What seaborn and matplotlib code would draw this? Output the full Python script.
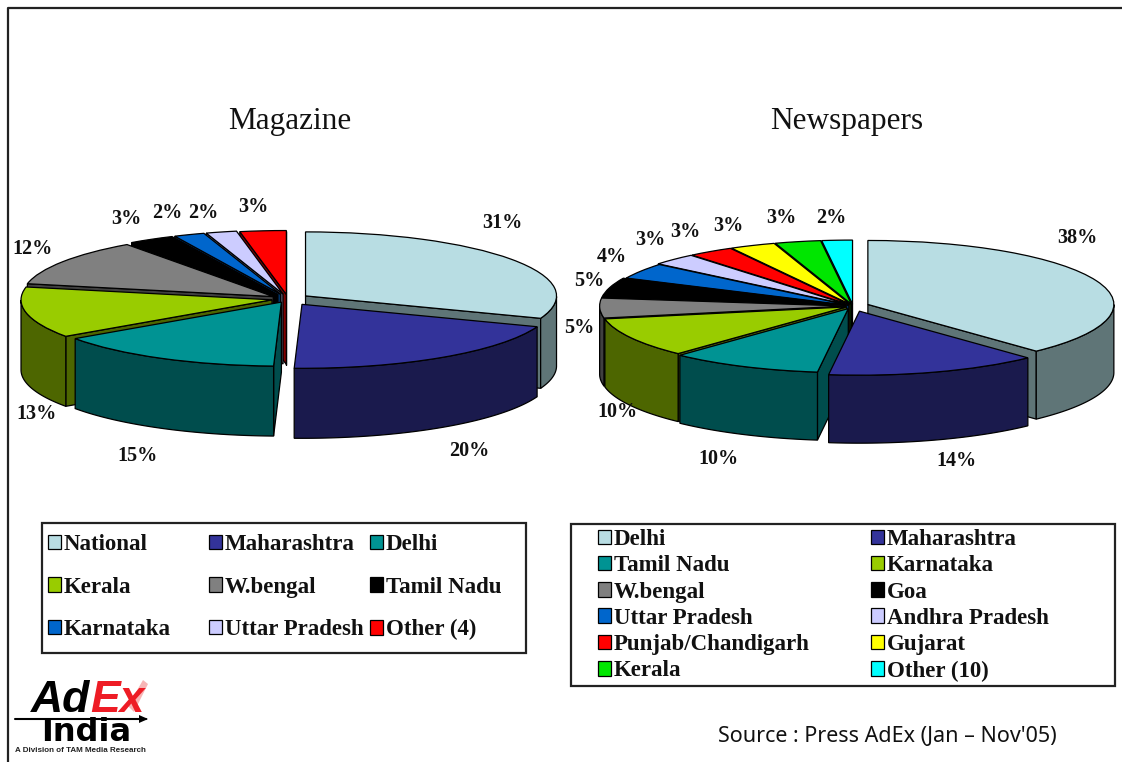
import numpy as np
import matplotlib
matplotlib.use("Agg")
import matplotlib.pyplot as plt
from matplotlib.lines import Line2D
from matplotlib.patches import Patch, Polygon, Rectangle
import seaborn as sns

W, H = 1122, 762

mag_labels = ["National", "Maharashtra", "Delhi", "Kerala", "W.bengal", "Tamil Nadu",
              "Karnataka", "Uttar Pradesh", "Other (4)"]
mag_values = [31, 20, 15, 13, 12, 3, 2, 2, 3]
mag_explode = [0.085, 0.1, 0.055, 0.065, 0.07, 0.08, 0.08, 0.08, 0.07]
mag_top = ["#B8DDE3", "#33339A", "#009393", "#99CC00", "#808080", "#000000", "#0066CC", "#CCCCFF", "#FF0000"]
mag_wall = ["#5F7577", "#1A1A4D", "#004D4D", "#4D6600", "#404040", "#000000", "#003366", "#66667F", "#800000"]
mag_pct_pos = [(502, 223), (469, 451), (137, 456), (37, 414), (33, 249),
               (126, 219), (167, 213), (203, 213), (253, 207)]

news_labels = ["Delhi", "Maharashtra", "Tamil Nadu", "Karnataka", "W.bengal", "Goa", "Uttar Pradesh",
               "Andhra Pradesh", "Punjab/Chandigarh", "Gujarat", "Kerala", "Other (10)"]
news_values = [38, 14, 10, 10, 5, 5, 4, 3, 3, 3, 3, 2]
news_explode = [0.065, 0.085, 0.045, 0.03, 0.03, 0.03, 0.02, 0.03, 0.03, 0.03, 0.03, 0.03]
news_top = ["#B8DDE3", "#33339A", "#009393", "#99CC00", "#808080", "#000000", "#0066CC", "#CCCCFF",
            "#FF0000", "#FFFF00", "#00E600", "#00FFFF"]
news_wall = ["#5F7577", "#1A1A4D", "#004D4D", "#4D6600", "#404040", "#000000", "#003366", "#66667F",
             "#800000", "#808000", "#007300", "#008080"]
news_pct_pos = [(1077, 238), (956, 461), (718, 459), (617, 412), (579, 328), (589, 281),
                (612, 257), (650, 240), (685, 232), (728, 226), (781, 218), (831, 218)]

sns.set_theme(style="white")
plt.rcParams["font.family"] = ["Liberation Serif", "DejaVu Serif"]

fig = plt.figure(figsize=(W / 100, H / 100), dpi=100, facecolor="white")


def pie_3d(values, explode, top, wall, pct_pos, cx, cy, rx, ry, depth):
    d = depth / ry
    xlim = (-1.2, 1.2)
    ylim = (-1 - d - 0.3, 1.3)
    ax = fig.add_axes([(cx + xlim[0] * rx) / W, (H - cy + ylim[0] * ry) / H,
                       (xlim[1] - xlim[0]) * rx / W, (ylim[1] - ylim[0]) * ry / H])
    wedges, texts = ax.pie(values, colors=sns.color_palette(top), explode=explode, startangle=90,
                           counterclock=False, labels=[f"{v}%" for v in values], labeldistance=1.1,
                           wedgeprops=dict(edgecolor="black", linewidth=0.9))
    ax.set_aspect("auto")
    ax.set_xlim(*xlim)
    ax.set_ylim(*ylim)

    # back slices first so the front ones paint over them
    mids = [np.radians((w.theta1 + w.theta2) / 2) for w in wedges]
    order = np.argsort([-np.sin(m) for m in mids])
    for rank, i in enumerate(order):
        w = wedges[i]
        x0, y0 = w.center
        kw = dict(facecolor=wall[i], edgecolor="black", linewidth=0.9, zorder=2 * rank + 1)
        for theta, sign in ((w.theta1, 1), (w.theta2, -1)):
            t = np.radians(theta)
            if sign * np.cos(t) > 0:
                xe, ye = x0 + np.cos(t), y0 + np.sin(t)
                ax.add_patch(Polygon([(x0, y0), (xe, ye), (xe, ye - d), (x0, y0 - d)], **kw))
        t = np.radians(np.linspace(w.theta1, w.theta2, 200))
        t = t[np.sin(t) <= 0]
        if len(t) > 1:
            xs = x0 + np.cos(t)
            ys = y0 + np.sin(t)
            pts = np.r_[np.c_[xs, ys], np.c_[xs, ys - d][::-1]]
            ax.add_patch(Polygon(pts, **kw))
        w.set_zorder(2 * rank + 2)

    for txt, (px, py) in zip(texts, pct_pos):
        txt.set_position(((px - cx) / rx, (cy - py) / ry))
        txt.set_ha("center")
        txt.set_va("center")
        txt.set_fontsize(14.5)
        txt.set_weight("bold")
        txt.set_color("#111111")
        txt.set_zorder(100)
    return wedges


def legend_box(labels, top, box, col_x, first_y, row_gap, ncol, fontsize):
    x0, y0, x1, y1 = box
    fig.add_artist(Rectangle((x0 / W, 1 - y1 / H), (x1 - x0) / W, (y1 - y0) / H, transform=fig.transFigure,
                             facecolor="none", edgecolor="#222222", linewidth=1.6))
    for c in range(ncol):
        handles = [Patch(facecolor=col, edgecolor="black", linewidth=0.9) for col in top[c::ncol]]
        fig.legend(handles, labels[c::ncol], loc="upper left", bbox_to_anchor=(col_x[c] / W, 1 - first_y / H),
                   bbox_transform=fig.transFigure, frameon=False, borderpad=0, borderaxespad=0,
                   handlelength=0.58, handleheight=0.6, handletextpad=0.12,
                   labelspacing=(row_gap - fontsize * 100 / 72) / (fontsize * 100 / 72),
                   prop=dict(family="Liberation Serif", weight="bold", size=fontsize), labelcolor="#111111")


pie_3d(mag_values, mag_explode, mag_top, mag_wall, mag_pct_pos, 288, 299, 251, 64, 70)
pie_3d(news_values, news_explode, news_top, news_wall, news_pct_pos, 853, 306, 246, 64, 68)

fig.text(290 / W, 1 - 122 / H, "Magazine", ha="center", va="center", fontsize=22.5, color="#111111")
fig.text(847 / W, 1 - 122 / H, "Newspapers", ha="center", va="center", fontsize=22.5, color="#111111")

legend_box(mag_labels, mag_top, (42, 523, 526, 653), (48, 209, 370), 534, 44.5, 3, 16.5)
legend_box(news_labels, news_top, (571, 524, 1115, 686), (598, 871), 529, 28.2, 2, 16.5)

fig.text(718 / W, 1 - 736 / H, "Source : Press AdEx (Jan \u2013 Nov'05)", ha="left", va="center",
         fontsize=15.5, family="Noto Sans", color="#111111")

# outer frame
fig.add_artist(Line2D([8 / W, 8 / W, 1], [0, 1 - 8 / H, 1 - 8 / H], color="#222222", linewidth=1.6))

# logo
fig.add_artist(Polygon([(128 / W, 1 - 706 / H), (143 / W, 1 - 680 / H), (148 / W, 1 - 684 / H), (134 / W, 1 - 712 / H)],
                       transform=fig.transFigure, facecolor="#F7B5B5", edgecolor="none"))
fig.text(31 / W, 1 - 712 / H, "Ad", family="Liberation Sans", weight="bold", style="italic", fontsize=32,
         color="black", ha="left", va="baseline")
fig.text(90 / W, 1 - 712 / H, "Ex", family="Liberation Sans", weight="bold", style="italic", fontsize=32,
         color="#EE1C25", ha="left", va="baseline")
fig.text(86 / W, 1 - 741 / H, "India", family="DejaVu Sans", weight="bold", fontsize=23, color="black",
         ha="center", va="baseline")
fig.add_artist(Line2D([15 / W, 146 / W], [1 - 719 / H, 1 - 719 / H], color="black", linewidth=1.5))
fig.add_artist(Polygon([(139 / W, 1 - 715 / H), (148 / W, 1 - 719 / H), (139 / W, 1 - 723 / H)],
                       transform=fig.transFigure, facecolor="black", edgecolor="none"))
fig.text(15 / W, 1 - 750 / H, "A Division of TAM Media Research", family="Liberation Sans", weight="bold",
         fontsize=5.8, color="#222222", ha="left", va="center")

fig.savefig("out.png", dpi=100, facecolor="white")
